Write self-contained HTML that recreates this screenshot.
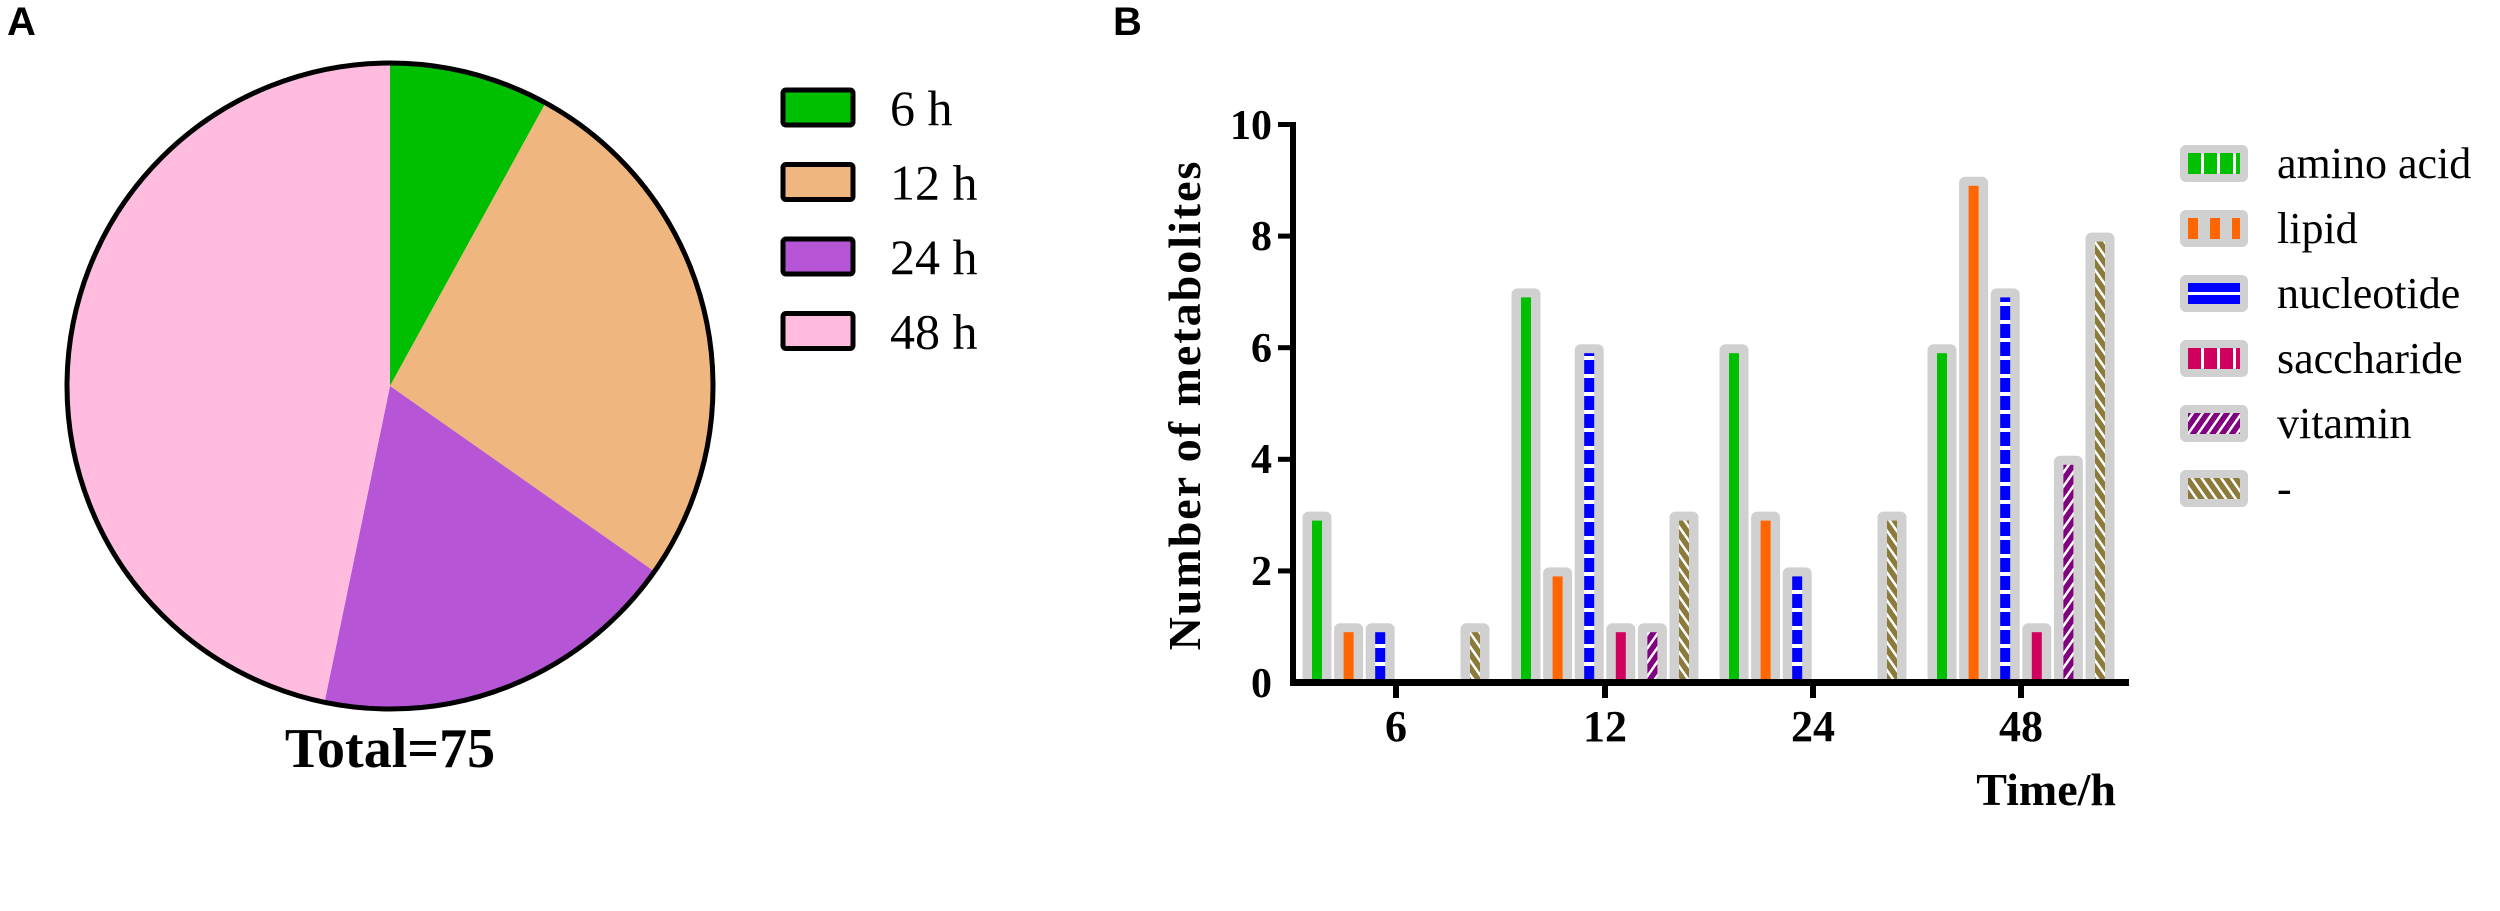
<!DOCTYPE html>
<html><head><meta charset="utf-8"><style>
html,body{margin:0;padding:0;background:#fff;}
svg{display:block;}
</style></head><body>
<svg width="2500" height="911" viewBox="0 0 2500 911" xmlns="http://www.w3.org/2000/svg">
<defs>
<pattern id="pBlue" width="10" height="18" patternUnits="userSpaceOnUse"><rect width="10" height="18" fill="#0000ff"/><rect y="14" width="10" height="4" fill="#fff"/></pattern>
<pattern id="pVit" width="8" height="8" patternUnits="userSpaceOnUse" patternTransform="rotate(35)"><rect width="8" height="8" fill="#800080"/><rect width="2.5" height="8" fill="#fff"/></pattern>
<pattern id="pOl" width="8" height="8" patternUnits="userSpaceOnUse" patternTransform="rotate(-35)"><rect width="8" height="8" fill="#8c7a3a"/><rect width="2.5" height="8" fill="#fff"/></pattern>
<pattern id="lGreen" width="16" height="30" patternUnits="userSpaceOnUse" x="2188"><rect width="16" height="30" fill="#00c000"/><rect x="13" width="3" height="30" fill="#fff"/></pattern>
<pattern id="lOr" width="22" height="30" patternUnits="userSpaceOnUse" x="2188"><rect width="22" height="30" fill="#ff6600"/><rect x="10" width="12" height="30" fill="#d0d0d0"/></pattern>
<pattern id="lSac" width="16" height="30" patternUnits="userSpaceOnUse" x="2188"><rect width="16" height="30" fill="#d0005e"/><rect x="13" width="3" height="30" fill="#fff"/></pattern>
</defs>
<rect width="2500" height="911" fill="#fff"/>
<text x="7" y="35" font-family="Liberation Sans, sans-serif" font-weight="bold" font-size="40">A</text>
<text x="1113" y="35" font-family="Liberation Sans, sans-serif" font-weight="bold" font-size="40">B</text>

<!-- Pie: cx 390 cy 386 r 323 -->
<g stroke="none">
<path d="M390,386 L390,63 A323,323 0 0 1 545.6,103.0 Z" fill="#00bf00"/>
<path d="M390,386 L545.6,103.0 A323,323 0 0 1 653.8,571.1 Z" fill="#f0b67f"/>
<path d="M390,386 L653.8,571.1 A323,323 0 0 1 324.5,702.3 Z" fill="#b655d6"/>
<path d="M390,386 L324.5,702.3 A323,323 0 0 1 390,63 Z" fill="#ffbcde"/>
</g>
<circle cx="390" cy="386" r="323" fill="none" stroke="#000" stroke-width="5"/>
<text x="390" y="767" text-anchor="middle" font-family="Liberation Serif, serif" font-weight="bold" font-size="56">Total=75</text>
<g stroke="#000" stroke-width="5">
<rect x="783" y="90" width="70" height="35" rx="3" fill="#00bf00"/>
<rect x="783" y="164.5" width="70" height="35" rx="3" fill="#f0b67f"/>
<rect x="783" y="239" width="70" height="35" rx="3" fill="#b655d6"/>
<rect x="783" y="313.5" width="70" height="35" rx="3" fill="#ffbcde"/>
</g>
<g font-family="Liberation Serif, serif" font-size="50">
<text x="890" y="125">6 h</text>
<text x="890" y="199.5">12 h</text>
<text x="890" y="274">24 h</text>
<text x="890" y="348.5">48 h</text>
</g>

<!-- Bar chart -->
<g id="bars"></g>
<!-- axes -->
<rect x="1290" y="122" width="6" height="564" fill="#000"/>
<rect x="1290" y="679" width="839" height="7" fill="#000"/>
<g fill="#000">
<rect x="1278" y="122" width="14" height="5"/>
<rect x="1278" y="233.6" width="14" height="5"/>
<rect x="1278" y="345.2" width="14" height="5"/>
<rect x="1278" y="456.8" width="14" height="5"/>
<rect x="1278" y="568.4" width="14" height="5"/>
<rect x="1393" y="680" width="6" height="18"/>
<rect x="1602" y="680" width="6" height="18"/>
<rect x="1810" y="680" width="6" height="18"/>
<rect x="2018" y="680" width="6" height="18"/>
</g>
<g font-family="Liberation Serif, serif" font-weight="bold" font-size="42" text-anchor="end">
<text x="1272" y="139">10</text>
<text x="1272" y="250">8</text>
<text x="1272" y="362">6</text>
<text x="1272" y="473">4</text>
<text x="1272" y="585">2</text>
<text x="1272" y="697">0</text>
</g>
<g font-family="Liberation Serif, serif" font-weight="bold" font-size="44" text-anchor="middle">
<text x="1396" y="741">6</text>
<text x="1605" y="741">12</text>
<text x="1813" y="741">24</text>
<text x="2021" y="741">48</text>
</g>
<text x="2116" y="805" text-anchor="end" font-family="Liberation Serif, serif" font-weight="bold" font-size="46">Time/h</text>
<text transform="translate(1200,405) rotate(-90)" text-anchor="middle" font-family="Liberation Serif, serif" font-weight="bold" font-size="46" letter-spacing="2">Number of metabolites</text>

<!-- legend B -->
<g fill="#d0d0d0">
<rect x="2180" y="145" width="68" height="37" rx="6"/>
<rect x="2180" y="210" width="68" height="37" rx="6"/>
<rect x="2180" y="275" width="68" height="37" rx="6"/>
<rect x="2180" y="340" width="68" height="37" rx="6"/>
<rect x="2180" y="405" width="68" height="37" rx="6"/>
<rect x="2180" y="470" width="68" height="37" rx="6"/>
</g>
<rect x="2188" y="153" width="52" height="21" fill="url(#lGreen)"/>
<rect x="2188" y="218" width="52" height="21" fill="url(#lOr)"/>
<rect x="2188" y="283" width="52" height="21" fill="#0000ff"/><rect x="2188" y="292" width="52" height="3" fill="#fff"/>
<rect x="2188" y="348" width="52" height="21" fill="url(#lSac)"/>
<rect x="2188" y="413" width="52" height="21" fill="url(#pVit)"/>
<rect x="2188" y="478" width="52" height="21" fill="url(#pOl)"/>
<g font-family="Liberation Serif, serif" font-size="44">
<text x="2277" y="178">amino acid</text>
<text x="2277" y="243">lipid</text>
<text x="2277" y="308">nucleotide</text>
<text x="2277" y="373">saccharide</text>
<text x="2277" y="438">vitamin</text>
<text x="2277" y="503">-</text>
</g>

<g id="barsdata">
<!-- generated bars -->
</g>
<script>
(function(){
var vals=[[3,1,1,0,0,1],[7,2,6,1,1,3],[6,3,2,0,0,3],[6,9,7,1,4,8]];
var centers=[1396,1605,1813,2021];
var fills=["#00c000","#ff6600","url(#pBlue)","#d0005e","url(#pVit)","url(#pOl)"];
var g=document.getElementById("bars");var ns="http://www.w3.org/2000/svg";
for(var i=0;i<4;i++)for(var j=0;j<6;j++){var v=vals[i][j];if(!v)continue;
var cx=centers[i]+(j-2.5)*31.6;var y=683-v*55.8;
var r=document.createElementNS(ns,"rect");r.setAttribute("x",cx-14.5);r.setAttribute("y",y-4);r.setAttribute("width",29);r.setAttribute("height",683-y+4);r.setAttribute("rx",6);r.setAttribute("fill","#d0d0d0");g.appendChild(r);
var c=document.createElementNS(ns,"rect");c.setAttribute("x",cx-5);c.setAttribute("y",y+5);c.setAttribute("width",10);c.setAttribute("height",683-y-5);c.setAttribute("fill",fills[j]);g.appendChild(c);}
})();
</script>
</svg>
</body></html>
